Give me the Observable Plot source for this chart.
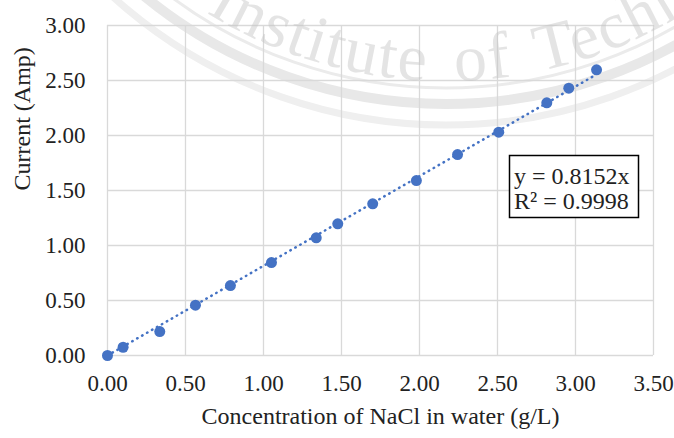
<!DOCTYPE html>
<html>
<head>
<meta charset="utf-8">
<script src="https://cdn.jsdelivr.net/npm/d3@7"></script>
<script src="https://cdn.jsdelivr.net/npm/@observablehq/plot@0.6"></script>
<style>
  html, body { margin: 0; padding: 0; background: #fff; }
</style>
</head>
<body>
<div id="chart"></div>
<script>
// ---- data ----
const concentration = [0, 0.10, 0.335, 0.564, 0.788, 1.051, 1.338, 1.476, 1.70, 1.98, 2.244, 2.508, 2.816, 2.957, 3.135];
const current       = [0, 0.075, 0.218, 0.457, 0.636, 0.845, 1.07, 1.197, 1.379, 1.59, 1.827, 2.03, 2.297, 2.43, 2.597];
const xTicks = [0, 0.5, 1, 1.5, 2, 2.5, 3, 3.5];
const yTicks = [0, 0.5, 1, 1.5, 2, 2.5, 3];
const trendSlope = 0.8152;
const trendR2 = "0.9998";
const xTitle = "Concentration of NaCl in water (g/L)";
const yTitle = "Current (Amp)";
const watermarkText = "Institute of Technology";

const points = concentration.map((x, i) => ({x, y: current[i]}));
const trendEnds = [0, d3.max(concentration)];
const trend = trendEnds.map(x => ({x, y: trendSlope * x}));

const blue = "#4472C4";
const grid = "#d9d9d9";
const ink = "#222";
const fmt = d3.format(".2f");

const chart = Plot.plot({
  width: 674,
  height: 438,
  marginLeft: 107,
  marginRight: 21,
  marginTop: 25,
  marginBottom: 83,
  style: {
    fontFamily: "'Liberation Serif', 'Times New Roman', serif",
    fontSize: "23px",
    color: ink,
    background: "#fff",
    overflow: "visible"
  },
  x: {domain: [0, 3.5]},
  y: {domain: [0, 3]},
  marks: [
    Plot.gridX(xTicks, {stroke: grid, strokeOpacity: 1, strokeWidth: 1.3}),
    Plot.gridY(yTicks, {stroke: grid, strokeOpacity: 1, strokeWidth: 1.3}),
    Plot.axisX(xTicks, {tickSize: 0, tickPadding: 19, tickFormat: fmt, label: null}),
    Plot.axisY(yTicks, {tickSize: 0, tickPadding: 22, tickFormat: fmt, label: null}),
    Plot.line(trend, {x: "x", y: "y", stroke: blue, strokeWidth: 2.5, strokeDasharray: "0.5,5.2", strokeLinecap: "round"}),
    Plot.dot(points, {x: "x", y: "y", r: 5.5, fill: blue}),
    Plot.text([xTitle], {frameAnchor: "bottom", dy: 68, fill: ink, fontSize: 24}),
    Plot.text([yTitle], {frameAnchor: "left", dx: -85, rotate: -90, fill: ink, fontSize: 24})
  ]
});

document.getElementById("chart").appendChild(chart);

const svg = d3.select(chart);

// ---- faint watermark (seal ring + curved text) ----
const wcx = 446, wcy = -372;
function arcPath(r, halfAngleDeg) {
  const a = halfAngleDeg * Math.PI / 180;
  const x1 = wcx - r * Math.sin(a), y1 = wcy + r * Math.cos(a);
  const x2 = wcx + r * Math.sin(a), y2 = wcy + r * Math.cos(a);
  return `M ${x1} ${y1} A ${r} ${r} 0 0 0 ${x2} ${y2}`;
}
const wmBack = svg.insert("g", ":first-child").attr("pointer-events", "none");
wmBack.append("path").attr("d", arcPath(460, 80)).attr("fill", "none").attr("stroke", "#ebebeb").attr("stroke-width", 3);
wmBack.append("path").attr("d", arcPath(476, 80)).attr("fill", "none").attr("stroke", "#e8e8e8").attr("stroke-width", 10);
wmBack.append("path").attr("d", arcPath(497, 80)).attr("fill", "none").attr("stroke", "#efefef").attr("stroke-width", 7);
svg.insert("rect", ":first-child").attr("width", 674).attr("height", 438).attr("fill", "#fff");

const textR = 453;
const startDeg = 80;
const textStartDeg = 32;
const defs = svg.append("defs");
defs.append("path").attr("id", "wmArc").attr("d", arcPath(textR, startDeg));
svg.append("text")
  .attr("fill", "#c4c4c4").attr("fill-opacity", 0.45)
  .attr("text-anchor", "start")
  .style("font-size", "66px")
  .style("letter-spacing", "2px")
  .style("word-spacing", "9px")
  .style("font-family", "'Liberation Serif', serif")
  .append("textPath")
  .attr("href", "#wmArc")
  .attr("startOffset", (startDeg - textStartDeg) * Math.PI / 180 * textR)
  .text(watermarkText);

// ---- trendline label box ----
const box = svg.append("g").attr("text-anchor", "start");
box.append("rect")
  .attr("x", 509.5).attr("y", 155.5).attr("width", 129).attr("height", 62)
  .attr("fill", "#fff").attr("stroke", "#000").attr("stroke-width", 1.5);
box.append("text")
  .attr("x", 514).attr("y", 183.5)
  .attr("fill", ink).style("font-size", "24px")
  .text(`y = ${trendSlope}x`);
box.append("text")
  .attr("x", 514).attr("y", 209)
  .attr("fill", ink).style("font-size", "24px")
  .text(`R² = ${trendR2}`);
</script>
</body>
</html>
